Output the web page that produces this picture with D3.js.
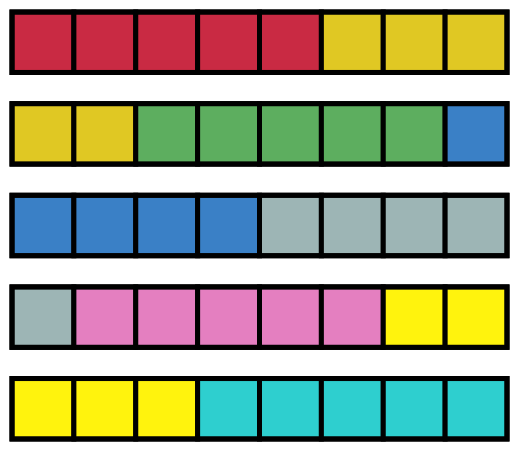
<!DOCTYPE html>
<html><head><meta charset="utf-8">
<script src="https://cdn.jsdelivr.net/npm/d3@7"></script>
<style>body{margin:0;background:#fff}</style></head>
<body><svg id="c" width="519" height="454"></svg>
<script>
const categories = ["A","B","C","D","E","F","G","H"];
const counts = [5,5,5,5,5,5,5,5];
const colors = ["#C92A43","#E0C823","#5DAE5F","#3A80C6","#9DB5B5","#E47FC0","#FFF30D","#2ECFCF"];
const cols = 8, rows = 5;

const cells = [];
categories.forEach((c,i)=>{for(let k=0;k<counts[i];k++) cells.push({cat:c,color:colors[i]});});
cells.forEach((d,i)=>{d.col=i%cols; d.row=Math.floor(i/cols);});

const svg = d3.select("#c");
const x = d3.scaleBand().domain(d3.range(cols)).range([12,507]).padding(0);
const y = d3.scaleBand().domain(d3.range(rows)).range([12,439]).paddingInner(0.34);

svg.selectAll("rect.cell").data(cells).join("rect").attr("class","cell")
  .attr("x",d=>x(d.col)).attr("y",d=>y(d.row))
  .attr("width",x.bandwidth()).attr("height",y.bandwidth())
  .attr("fill",d=>d.color).attr("stroke","#000").attr("stroke-width",5);
svg.selectAll("rect.row").data(d3.range(rows)).join("rect").attr("class","row")
  .attr("x",x(0)).attr("y",d=>y(d)).attr("width",x.bandwidth()*cols).attr("height",y.bandwidth())
  .attr("fill","none").attr("stroke","#000").attr("stroke-width",5);
</script></body></html>
